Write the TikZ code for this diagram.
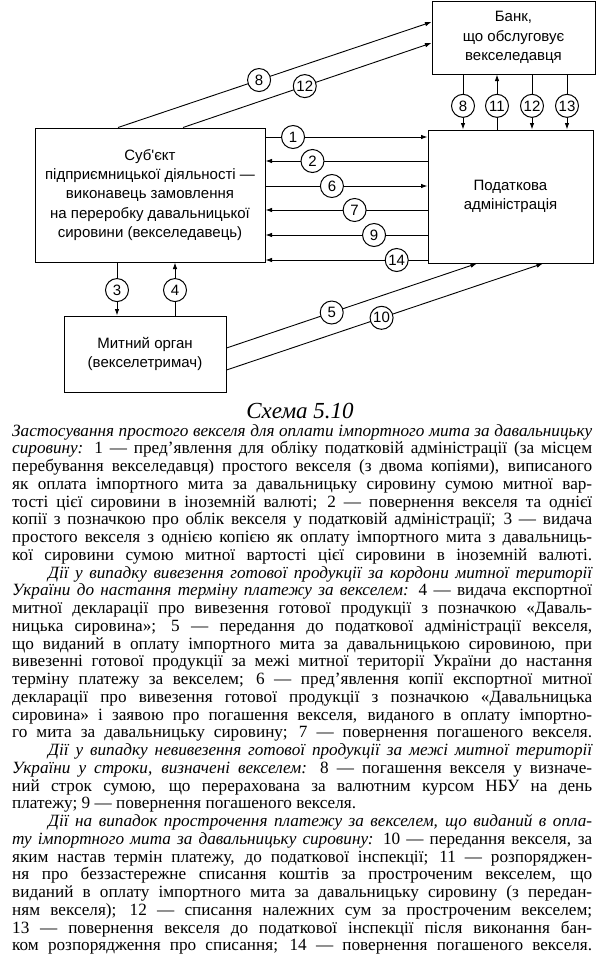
\documentclass[tikz,border=0pt]{standalone}
\usepackage{fontspec}
\setmainfont{Liberation Serif}
\newfontfamily\diagfont{Liberation Sans}
\usetikzlibrary{arrows.meta,calc}
\tikzset{
  block/.style = {draw, line width=1pt, align=center, inner sep=0pt,
                  font=\diagfont\fontsize{15}{19.4}\selectfont},
  num/.style   = {circle, draw, line width=1pt, fill=white, inner sep=0.5pt,
                  minimum size=23pt, font=\diagfont\fontsize{15}{15}\selectfont},
  flow/.style  = {line width=0.9pt, -{Latex[length=6.5pt,width=4.5pt]}},
  legend/.style = {text width=580pt, align=justify, inner sep=0pt,
                   font=\fontsize{17.2}{17.75}\selectfont}
}

\begin{document}
\begin{tikzpicture}[x=1pt,y=-1pt]
\useasboundingbox (0,0) rectangle (600,964);

% --- the four parties -----------------------------------------------------
\node[block, minimum width=163pt, minimum height=73pt] (bank) at (513.5,37.5)
     {Банк,\\що обслуговує\\векселедавця};
\node[block, minimum width=165pt, minimum height=133pt] (tax) at (510.5,196.5)
     {Податкова\\адміністрація};
\node[block, minimum width=230pt, minimum height=134pt] (subj) at (150,195)
     {Суб'єкт\\підприємницької діяльності —\\виконавець замовлення\\на переробку давальницької\\сировини (векселедавець)};
\node[block, minimum width=162pt, minimum height=76pt] (customs) at (145,354)
     {Митний орган\\(векселетримач)};

% --- subject <-> tax administration ---------------------------------------
\draw[flow] (subj.east |- 0,137) -- node[num, pos=0.17] {1} (tax.west |- 0,137);
\draw[flow] (tax.west |- 0,161)  -- node[num, pos=0.71] {2} (subj.east |- 0,161);
\draw[flow] (subj.east |- 0,186) -- node[num, pos=0.41] {6} (tax.west |- 0,186);
\draw[flow] (tax.west |- 0,210)  -- node[num, pos=0.45] {7} (subj.east |- 0,210);
\draw[flow] (tax.west |- 0,235)  -- node[num, pos=0.33] {9} (subj.east |- 0,235);
\draw[flow] (tax.west |- 0,260)  -- node[num, pos=0.19] {14} (subj.east |- 0,260);

% --- bank <-> tax administration ------------------------------------------
\draw[flow] (bank.south -| 463,0) -- node[num, pos=0.57] {8}  (tax.north -| 463,0);
\draw[flow] (tax.north -| 497,0)  -- node[num, pos=0.43] {11} (bank.south -| 497,0);
\draw[flow] (bank.south -| 532,0) -- node[num, pos=0.57] {12} (tax.north -| 532,0);
\draw[flow] (bank.south -| 567,0) -- node[num, pos=0.57] {13} (tax.north -| 567,0);

% --- subject <-> customs --------------------------------------------------
\draw[flow] (subj.south -| 117,0)    -- node[num, pos=0.52] {3} (customs.north -| 117,0);
\draw[flow] (customs.north -| 175,0) -- node[num, pos=0.48] {4} (subj.south -| 175,0);

% --- subject -> bank, customs -> tax administration -----------------------
\draw[flow] (subj.north -| 118,0) -- node[num, pos=0.45] {8}  (bank.west |- 0,22);
\draw[flow] (subj.north -| 183,0) -- node[num, pos=0.49] {12} (bank.west |- 0,43);
\draw[flow] (customs.east |- 0,348) -- node[num, pos=0.42] {5}  (tax.south -| 477,0);
\draw[flow] (customs.east |- 0,370) -- node[num, pos=0.49] {10} (tax.south -| 543,0);

% --- caption --------------------------------------------------------------
\node[font=\itshape\fontsize{23}{26}\selectfont] (title) at (300,411) {Схема 5.10};

\node[legend, anchor=north west] (notes) at (12,424) {%
\textit{Застосування простого векселя для оплати імпортного мита за давальницьку\linebreak
сировину:} 1 — пред'явлення для обліку податковій адміністрації (за місцем\linebreak
перебування векселедавця) простого векселя (з двома копіями), виписаного\linebreak
як оплата імпортного мита за давальницьку сировину сумою митної вар-\linebreak
тості цієї сировини в іноземній валюті; 2 — повернення векселя та однієї\linebreak
копії з позначкою про облік векселя у податковій адміністрації; 3 — видача\linebreak
простого векселя з однією копією як оплату імпортного мита з давальниць-\linebreak
кої сировини сумою митної вартості цієї сировини в іноземній валюті.\parfillskip=0pt\par
\hspace*{36pt}\textit{Дії у випадку вивезення готової продукції за кордони митної території\linebreak
України до настання терміну платежу за векселем:} 4 — видача експортної\linebreak
митної декларації про вивезення готової продукції з позначкою «Даваль-\linebreak
ницька сировина»; 5 — передання до податкової адміністрації векселя,\linebreak
що виданий в оплату імпортного мита за давальницькою сировиною, при\linebreak
вивезенні готової продукції за межі митної території України до настання\linebreak
терміну платежу за векселем; 6 — пред'явлення копії експортної митної\linebreak
декларації про вивезення готової продукції з позначкою «Давальницька\linebreak
сировина» і заявою про погашення векселя, виданого в оплату імпортно-\linebreak
го мита за давальницьку сировину; 7 — повернення погашеного векселя.\parfillskip=0pt\par
\hspace*{36pt}\textit{Дії у випадку невивезення готової продукції за межі митної території\linebreak
України у строки, визначені векселем:} 8 — погашення векселя у визначе-\linebreak
ний строк сумою, що перерахована за валютним курсом НБУ на день\linebreak
платежу; 9 — повернення погашеного векселя.\parfillskip=0pt plus 1fil\par
\hspace*{36pt}\textit{Дії на випадок прострочення платежу за векселем, що виданий в опла-\linebreak
ту імпортного мита за давальницьку сировину:} 10 — передання векселя, за\linebreak
яким настав термін платежу, до податкової інспекції; 11 — розпоряджен-\linebreak
ня про беззастережне списання коштів за простроченим векселем, що\linebreak
виданий в оплату імпортного мита за давальницьку сировину (з передан-\linebreak
ням векселя); 12 — списання належних сум за простроченим векселем;\linebreak
13 — повернення векселя до податкової інспекції після виконання бан-\linebreak
ком розпорядження про списання; 14 — повернення погашеного векселя.\parfillskip=0pt\par};

\end{tikzpicture}
\end{document}
